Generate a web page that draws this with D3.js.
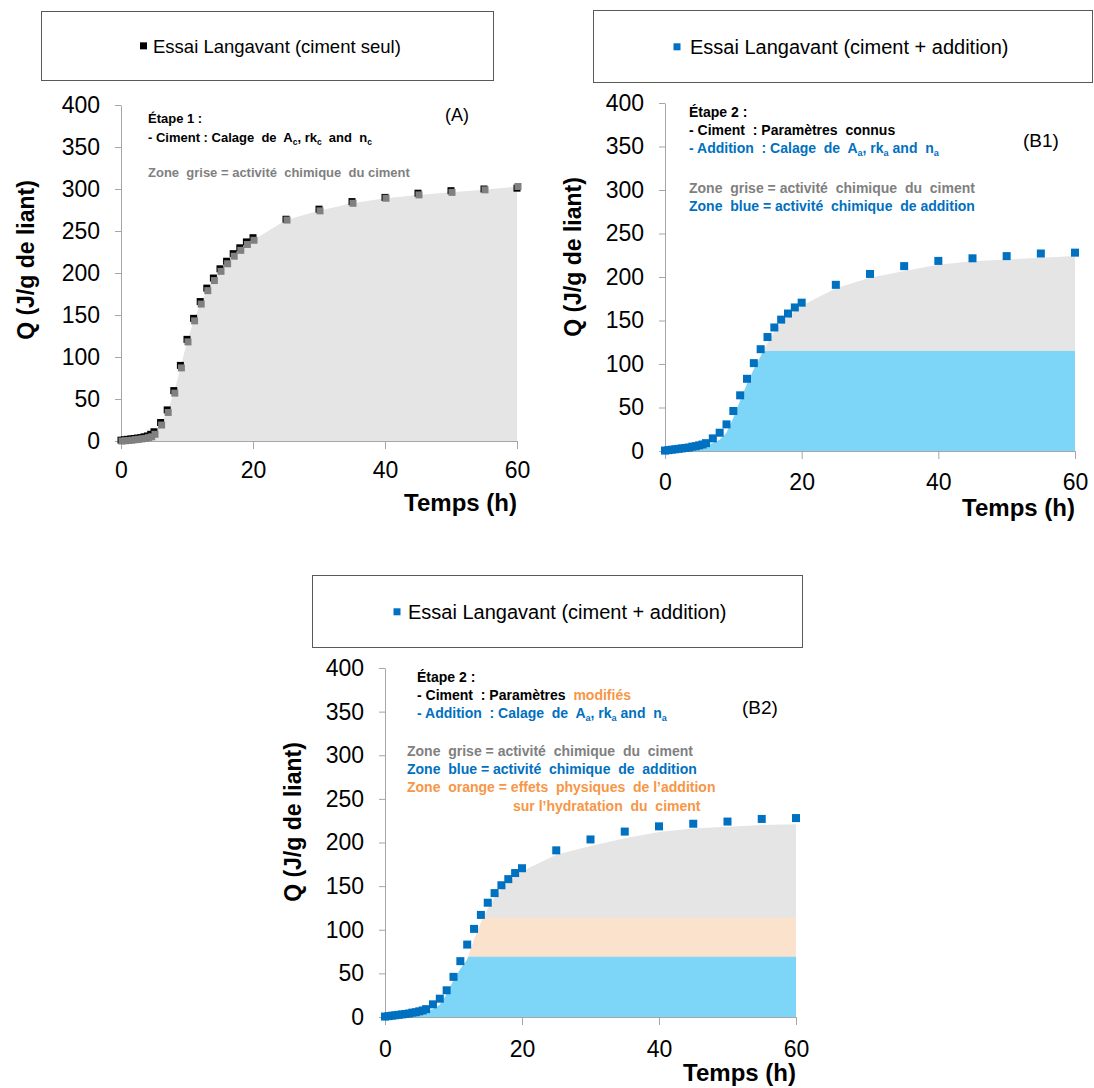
<!DOCTYPE html>
<html><head><meta charset="utf-8">
<script src="https://cdn.jsdelivr.net/npm/d3@7"></script>
<style>
body{margin:0;background:#fff;}
svg text{font-family:"Liberation Sans",Arial,sans-serif;white-space:pre;}
</style></head>
<body><svg id="c" width="1094" height="1088"></svg>
<script>
// ---------- DATA ----------
const xTicks = [0, 20, 40, 60];
const yTicks = [0, 50, 100, 150, 200, 250, 300, 350, 400];

// Panel A : ciment seul
const timesA = [0,0.5,1,1.5,2,2.5,3,3.5,4,4.5,5,6,7,8,9,10,11,12,13,14,15,16,17,18,19,20,25,30,35,40,45,50,55,60];
const expA   = [1,1.5,2,2.5,3,3.5,4,5,6,8,11,22,37,60,90,121,146,166,182,194,205,214,223,230,237,242,264,276,285,290,295,298,300,301];
const fitA   = [0,0.3,0.6,1,1.5,2,2.5,3,4,5,8,19,34,57,87,118,143,163,179,191,202,211,220,227,234,239,263,274,283,289,293,296,299,303];

// Panels B1 / B2 : ciment + addition
const timesB = [0,0.5,1,1.5,2,2.5,3,3.5,4,4.5,5,5.5,6,7,8,9,10,11,12,13,14,15,16,17,18,19,20,25,30,35,40,45,50,55,60];
const expB   = [0.5,1,1.5,2,2.5,3,3.5,4,5,5.5,6.5,7.5,9,14.5,21,30.6,46,64,83,101,117,131,142,151,158,165,170.5,191,203.5,212.5,218.5,221.5,224,227,228];
const modelTimesB = [0,2,4,5,6,7,8,9,10,11,12,13,14,15,16,17,18,19,20,25,30,35,40,45,50,55,60];
const modelB1 = [0,1.5,3.5,5,7,9,13,21,38,58,77,94,109,124,137,147,155,161,167,187,199,207,214,218,220,222,224];
const modelB2 = [0,1.5,3.5,5,7,9,14,26,42,55,66,88,108,124,137,147,155,161,167,186,196,205,212,216,218,220,221];
const additionLevelB1 = 115;
const additionLevelB2 = 69;
const physicalLevelB2 = 114;

// ---------- DRAW ----------
const svg = d3.select("#c");
const GRAY_AREA = "#e5e5e5", BLUE_AREA = "#7dd6f7", ORANGE_AREA = "#fbe2cd";
const BLUE = "#0070c0", GRAYTXT = "#808080", ORANGE = "#f79646";

function legend(x0, x1, y0, y1, mx, tx, ty, color, label, fs) {
  svg.append("rect").attr("x", x0 + 0.5).attr("y", y0 + 0.5).attr("width", x1 - x0).attr("height", y1 - y0)
    .attr("fill", "#fff").attr("stroke", "#595959").attr("stroke-width", 1);
  svg.append("rect").attr("x", mx - 3.5).attr("y", ty - fs * 0.36 - 3.5).attr("width", 7).attr("height", 7).attr("fill", color);
  svg.append("text").attr("x", tx).attr("y", ty).attr("font-size", fs).attr("fill", "#000").text(label);
}

function panel(cfg) {
  const x = d3.scaleLinear().domain([0, 60]).range(cfg.xr);
  const y = d3.scaleLinear().domain([0, 400]).range(cfg.yr);
  const g = svg.append("g");
  const id = cfg.id;
  const area = d3.area().x(d => x(d[0])).y0(y(0)).y1(d => y(d[1]));
  const model = cfg.mt.map((t, i) => [t, cfg.mv[i]]);
  g.append("path").datum(model).attr("d", area).attr("fill", GRAY_AREA);
  (cfg.bands || []).forEach((b, k) => {
    const cid = id + "clip" + k;
    svg.append("clipPath").attr("id", cid).append("rect")
      .attr("x", x(0) - 2).attr("width", x(60) - x(0) + 4)
      .attr("y", y(b.level)).attr("height", y(0) - y(b.level) + 1);
    g.append("path").datum(model).attr("d", area).attr("fill", b.color).attr("clip-path", `url(#${cid})`);
  });
  // axes
  const ya = g.append("g").attr("transform", `translate(${x(0)},0)`)
    .call(d3.axisLeft(y).tickValues(yTicks).tickSize(6).tickSizeOuter(0).tickPadding(15));
  const xa = g.append("g").attr("transform", `translate(0,${y(0)})`)
    .call(d3.axisBottom(x).tickValues(xTicks).tickSize(8).tickSizeOuter(0).tickPadding(cfg.xpad));
  [ya, xa].forEach(a => {
    a.selectAll("path,line").attr("stroke", "#a6a6a6");
    a.selectAll("text").attr("font-size", 23).attr("fill", "#000").attr("font-family", "Liberation Sans, Arial, sans-serif");
  });
  // markers
  const ms = cfg.ms;
  g.selectAll(null).data(cfg.times).enter().append("rect")
    .attr("x", (t) => x(t) - ms / 2).attr("y", (t, i) => y(cfg.exp[i]) - ms / 2)
    .attr("width", ms).attr("height", ms).attr("fill", cfg.color);
  if (cfg.fit) {
    g.selectAll(null).data(cfg.times).enter().append("rect")
      .attr("x", (t) => x(t) - ms / 2 + 1).attr("y", (t, i) => y(cfg.fit[i]) - ms / 2)
      .attr("width", ms).attr("height", ms).attr("fill", "#808080");
  }
  // axis titles
  g.append("text").attr("transform", `translate(${cfg.ytx},${cfg.yty}) rotate(-90)`)
    .attr("text-anchor", "middle").attr("dominant-baseline", "central")
    .attr("font-size", 23).attr("font-weight", "bold").text("Q (J/g de liant)");
  g.append("text").attr("x", x(60)).attr("y", cfg.xty).attr("text-anchor", "end")
    .attr("font-size", 24).attr("font-weight", "bold").text("Temps (h)");
  return { x, y };
}

function richLine(x, yb, fs, parts) {
  const t = svg.append("text").attr("x", x).attr("y", yb).attr("font-size", fs).attr("font-weight", "bold");
  parts.forEach(p => {
    const ts = t.append("tspan").attr("fill", p.c || "#000").text(p.t);
    if (p.sub) ts.attr("font-size", fs * 0.65).attr("dy", 3);
    if (p.up) ts.attr("dy", -3);
  });
  return t;
}

// ---- Panel A ----
legend(41, 493, 11, 80, 143.5, 153, 52.5, "#000", "Essai Langavant (ciment seul)", 18.5);
panel({ id: "A", xr: [121, 517], yr: [441, 105], xpad: 13, ms: 7,
  times: timesA, exp: expA, fit: fitA, color: "#000",
  mt: timesA, mv: fitA, ytx: 26, yty: 260, xty: 511 });
richLine(148, 123, 13, [{ t: "Étape 1 :" }]);
richLine(148, 142, 13, [{ t: "- Ciment : Calage  de  A" }, { t: "c", sub: 1 }, { t: ", rk", up: 1 }, { t: "c", sub: 1 }, { t: "  and  n", up: 1 }, { t: "c", sub: 1 }]);
richLine(148, 177, 13, [{ t: "Zone  grise = activité  chimique  du ciment", c: GRAYTXT }]);
svg.append("text").attr("x", 445).attr("y", 121).attr("font-size", 18).text("(A)");

// ---- Panel B1 ----
legend(593, 1092, 10, 82, 677, 690, 54, BLUE, "Essai Langavant (ciment + addition)", 20);
panel({ id: "B1", xr: [665, 1075], yr: [451, 103], xpad: 15, ms: 8,
  times: timesB, exp: expB, color: BLUE,
  mt: modelTimesB, mv: modelB1,
  bands: [{ level: additionLevelB1, color: BLUE_AREA }],
  ytx: 573, yty: 257, xty: 516 });
richLine(689, 116.5, 14, [{ t: "Étape 2 :" }]);
richLine(689, 135, 14, [{ t: "- Ciment  : Paramètres  connus" }]);
richLine(689, 153, 14, [{ t: "- Addition  : Calage  de  A", c: BLUE }, { t: "a", sub: 1, c: BLUE }, { t: ", rk", up: 1, c: BLUE }, { t: "a", sub: 1, c: BLUE }, { t: " and  n", up: 1, c: BLUE }, { t: "a", sub: 1, c: BLUE }]);
richLine(689, 193, 14, [{ t: "Zone  grise = activité  chimique  du  ciment", c: GRAYTXT }]);
richLine(689, 211, 14, [{ t: "Zone  blue = activité  chimique  de addition", c: BLUE }]);
svg.append("text").attr("x", 1023).attr("y", 147).attr("font-size", 19).text("(B1)");

// ---- Panel B2 ----
legend(312, 802, 575, 647, 397, 408, 619, BLUE, "Essai Langavant (ciment + addition)", 20);
panel({ id: "B2", xr: [385, 796], yr: [1017, 668], xpad: 16, ms: 8,
  times: timesB, exp: expB, color: BLUE,
  mt: modelTimesB, mv: modelB2,
  bands: [{ level: physicalLevelB2, color: ORANGE_AREA }, { level: additionLevelB2, color: BLUE_AREA }],
  ytx: 293, yty: 822, xty: 1081 });
richLine(417, 681.5, 14, [{ t: "Étape 2 :" }]);
richLine(417, 700, 14, [{ t: "- Ciment  : Paramètres  " }, { t: "modifiés", c: ORANGE }]);
richLine(417, 718, 14, [{ t: "- Addition  : Calage  de  A", c: BLUE }, { t: "a", sub: 1, c: BLUE }, { t: ", rk", up: 1, c: BLUE }, { t: "a", sub: 1, c: BLUE }, { t: " and  n", up: 1, c: BLUE }, { t: "a", sub: 1, c: BLUE }]);
richLine(407, 755.5, 14, [{ t: "Zone  grise = activité  chimique  du  ciment", c: GRAYTXT }]);
richLine(407, 774, 14, [{ t: "Zone  blue = activité  chimique  de  addition", c: BLUE }]);
richLine(407, 792, 14, [{ t: "Zone  orange = effets  physiques  de l’addition", c: ORANGE }]);
richLine(513, 810.5, 14, [{ t: "sur l’hydratation  du  ciment", c: ORANGE }]);
svg.append("text").attr("x", 742).attr("y", 714).attr("font-size", 19).text("(B2)");
</script></body></html>
